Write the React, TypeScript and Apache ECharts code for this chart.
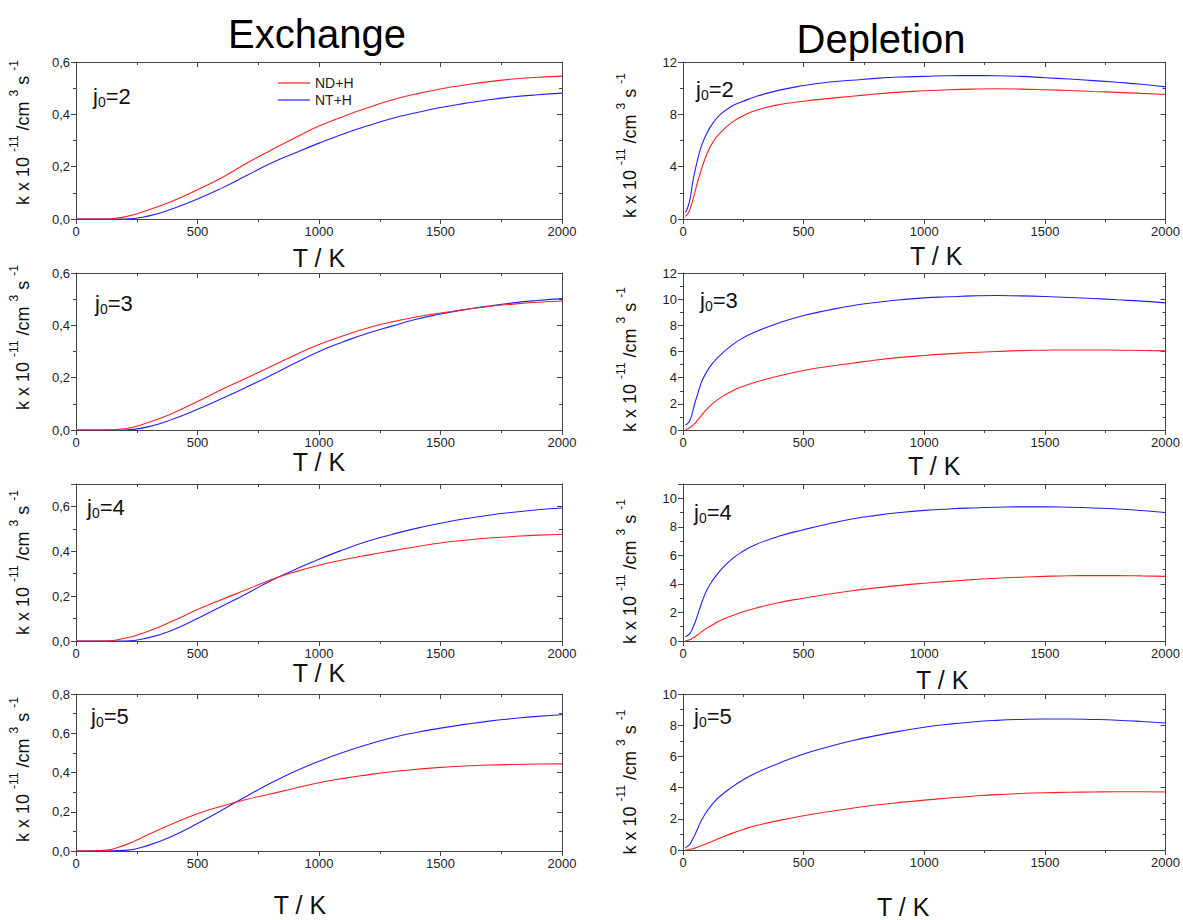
import React, { useEffect, useRef } from "react";
import * as echarts from "echarts";

// ---------- data ----------
const T_EX = [0, 100, 200, 300, 400, 500, 600, 700, 800, 900, 1000, 1100, 1200, 1300, 1400, 1500, 1600, 1700, 1800, 1900, 2000];

const EX2_ND = [0, 0, 0.008, 0.035, 0.07, 0.112, 0.158, 0.212, 0.262, 0.31, 0.355, 0.392, 0.425, 0.455, 0.478, 0.497, 0.512, 0.525, 0.535, 0.542, 0.546];
const EX2_NT = [0, 0, 0, 0.012, 0.04, 0.076, 0.118, 0.165, 0.212, 0.252, 0.29, 0.325, 0.356, 0.384, 0.406, 0.426, 0.442, 0.456, 0.467, 0.475, 0.481];

const EX3_ND = [0, 0, 0.005, 0.03, 0.065, 0.109, 0.155, 0.198, 0.242, 0.286, 0.327, 0.36, 0.39, 0.413, 0.432, 0.447, 0.46, 0.472, 0.481, 0.488, 0.493];
const EX3_NT = [0, 0, 0, 0.013, 0.042, 0.079, 0.12, 0.163, 0.208, 0.255, 0.3, 0.337, 0.37, 0.397, 0.423, 0.443, 0.46, 0.474, 0.486, 0.495, 0.502];

const EX4_ND = [0, 0, 0.012, 0.045, 0.09, 0.14, 0.185, 0.228, 0.272, 0.308, 0.338, 0.362, 0.383, 0.402, 0.42, 0.437, 0.449, 0.459, 0.466, 0.472, 0.476];
const EX4_NT = [0, 0, 0, 0.015, 0.05, 0.1, 0.155, 0.21, 0.268, 0.318, 0.365, 0.407, 0.445, 0.475, 0.502, 0.525, 0.545, 0.561, 0.574, 0.585, 0.593];

const EX5_ND = [0, 0.002, 0.03, 0.085, 0.14, 0.19, 0.228, 0.262, 0.29, 0.32, 0.348, 0.37, 0.388, 0.404, 0.416, 0.426, 0.433, 0.438, 0.441, 0.443, 0.444];
const EX5_NT = [0, 0, 0.003, 0.03, 0.078, 0.14, 0.208, 0.278, 0.345, 0.405, 0.457, 0.503, 0.543, 0.577, 0.604, 0.626, 0.645, 0.662, 0.675, 0.686, 0.694];

const T_DEP = [10, 20, 30, 40, 50, 60, 70, 80, 100, 125, 150, 200, 250, 300, 400, 500, 600, 700, 800, 900, 1000, 1100, 1200, 1300, 1400, 1500, 1600, 1700, 1800, 1900, 2000];

const DEP2_ND = [0.2, 0.4, 0.8, 1.4, 2.1, 2.8, 3.4, 4.0, 5.0, 5.9, 6.5, 7.35, 7.9, 8.3, 8.75, 9.0, 9.2, 9.38, 9.55, 9.7, 9.8, 9.88, 9.93, 9.95, 9.93, 9.88, 9.82, 9.75, 9.68, 9.6, 9.52];
const DEP2_NT = [0.5, 0.9, 1.6, 2.8, 3.7, 4.5, 5.2, 5.75, 6.6, 7.35, 7.9, 8.6, 9.0, 9.35, 9.85, 10.2, 10.45, 10.6, 10.75, 10.85, 10.9, 10.95, 10.96, 10.95, 10.9, 10.8, 10.7, 10.58, 10.45, 10.3, 10.1];

const DEP3_ND = [0.05, 0.1, 0.2, 0.35, 0.5, 0.75, 0.95, 1.2, 1.6, 2.05, 2.4, 2.95, 3.35, 3.65, 4.15, 4.55, 4.85, 5.1, 5.35, 5.55, 5.7, 5.82, 5.92, 6.0, 6.07, 6.1, 6.12, 6.12, 6.1, 6.08, 6.05];
const DEP3_NT = [0.4, 0.5, 0.8, 1.4, 2.1, 2.7, 3.3, 3.8, 4.5, 5.15, 5.65, 6.45, 7.05, 7.5, 8.2, 8.75, 9.15, 9.5, 9.75, 9.95, 10.1, 10.18, 10.25, 10.28, 10.25, 10.2, 10.13, 10.05, 9.95, 9.85, 9.72];

const DEP4_ND = [0.02, 0.05, 0.1, 0.2, 0.3, 0.42, 0.55, 0.68, 0.9, 1.15, 1.4, 1.75, 2.05, 2.3, 2.7, 3.0, 3.28, 3.52, 3.72, 3.9, 4.05, 4.18, 4.3, 4.4, 4.47, 4.53, 4.57, 4.58, 4.58, 4.56, 4.53];
const DEP4_NT = [0.3, 0.4, 0.55, 0.9, 1.3, 1.8, 2.3, 2.8, 3.6, 4.3, 4.85, 5.7, 6.3, 6.75, 7.35, 7.8, 8.2, 8.55, 8.8, 9.0, 9.15, 9.25, 9.32, 9.37, 9.4, 9.4, 9.37, 9.32, 9.25, 9.14, 9.0];

const DEP5_ND = [0, 0.02, 0.05, 0.08, 0.12, 0.18, 0.24, 0.3, 0.42, 0.58, 0.75, 1.05, 1.32, 1.55, 1.9, 2.2, 2.45, 2.68, 2.88, 3.05, 3.2, 3.33, 3.45, 3.55, 3.62, 3.67, 3.7, 3.72, 3.73, 3.73, 3.72];
const DEP5_NT = [0.15, 0.25, 0.4, 0.7, 1.0, 1.35, 1.7, 2.0, 2.5, 3.0, 3.4, 4.0, 4.5, 4.92, 5.58, 6.15, 6.6, 7.0, 7.33, 7.62, 7.87, 8.06, 8.21, 8.31, 8.37, 8.4, 8.4, 8.37, 8.32, 8.24, 8.14];

const J0_VALUES = ["2", "3", "4", "5"];
const EX_YMAX = [0.6, 0.6, 0.7, 0.8];
const EX_YSTEP = [0.2, 0.2, 0.2, 0.2];
const DEP_YMAX = [12, 12, 11, 10];
const DEP_YSTEP = [4, 2, 2, 2];
const X_MAX = 2000;
const X_STEP = 500;
const SERIES_NAMES = ["ND+H", "NT+H"];
const COLUMN_TITLES = ["Exchange", "Depletion"];

const EX_ND = [EX2_ND, EX3_ND, EX4_ND, EX5_ND];
const EX_NT = [EX2_NT, EX3_NT, EX4_NT, EX5_NT];
const DEP_ND = [DEP2_ND, DEP3_ND, DEP4_ND, DEP5_ND];
const DEP_NT = [DEP2_NT, DEP3_NT, DEP4_NT, DEP5_NT];

// ---------- layout ----------
const W = 1183;
const H = 920;
const ROW_TOP = [62, 273, 484, 694];
const ROW_H = 157;
const COL_LEFT = [76, 683];
const COL_W = 486;
const XNAME_GAP = [[26, 19, 19, 41], [24, 23, 26, 44]];
const XNAME_SHIFT = [[0, 0, 0, -19], [12, 10, 18, -21]];
const YNAME_SHIFT = [[-8, -14, 0, -3], [5, 8, 9, 10]];
const J0_POS = [
  [[93, 97], [95, 304], [87, 508], [91, 717]],
  [[696, 90], [700, 301], [694, 513], [694, 717]],
];

const FONT = "'Liberation Sans', Arial, Helvetica, sans-serif";
const AX = "#444";
const TXT = "#111";
const RED = "#ff1f1f";
const BLUE = "#2020ff";

const fmtComma = (v: number) => v.toFixed(1).replace(".", ",");
const isMultiple = (max: number, step: number) =>
  Math.abs(Math.round(max / step) * step - max) < 1e-9;

function buildOption() {
  const grid: any[] = [];
  const xAxis: any[] = [];
  const yAxis: any[] = [];
  const series: any[] = [];
  const graphic: any[] = [];

  for (let c = 0; c < 2; c++) {
    for (let r = 0; r < 4; r++) {
      const gi = grid.length;
      grid.push({
        left: COL_LEFT[c],
        top: ROW_TOP[r],
        width: COL_W,
        height: ROW_H,
        containLabel: false,
      });
      const shift = XNAME_SHIFT[c][r];
      const xPad = shift >= 0 ? [0, 0, 0, 2 * shift] : [0, -2 * shift, 0, 0];
      xAxis.push({
        type: "value",
        gridIndex: gi,
        position: "bottom",
        min: 0,
        max: X_MAX,
        interval: X_STEP,
        axisLine: { show: true, onZero: false, lineStyle: { color: AX, width: 1 } },
        axisTick: { show: true, inside: false, length: 5, lineStyle: { color: AX } },
        minorTick: { show: true, splitNumber: 2, length: 3, lineStyle: { color: AX } },
        splitLine: { show: false },
        minorSplitLine: { show: false },
        axisLabel: {
          fontSize: 13,
          color: "#222",
          margin: 6,
          fontFamily: FONT,
          formatter: (v: number) => String(v),
        },
        name: "T / K",
        nameLocation: "middle",
        nameGap: XNAME_GAP[c][r],
        nameTextStyle: { fontSize: 25, color: TXT, fontFamily: FONT, padding: xPad },
      });
      xAxis.push({
        type: "value",
        gridIndex: gi,
        position: "top",
        min: 0,
        max: X_MAX,
        interval: X_STEP,
        axisLine: { show: true, onZero: false, lineStyle: { color: AX, width: 1 } },
        axisTick: { show: true, inside: true, length: 5, lineStyle: { color: AX } },
        minorTick: { show: true, splitNumber: 2, length: 3, lineStyle: { color: AX } },
        splitLine: { show: false },
        axisLabel: { show: false },
      });

      const ymax = c === 0 ? EX_YMAX[r] : DEP_YMAX[r];
      const ystep = c === 0 ? EX_YSTEP[r] : DEP_YSTEP[r];
      const ysh = YNAME_SHIFT[c][r];
      const yPad = ysh < 0 ? [0, 0, 0, -2 * ysh] : [0, 2 * ysh, 0, 0];
      yAxis.push({
        type: "value",
        gridIndex: gi,
        position: "left",
        min: 0,
        max: ymax,
        interval: ystep,
        axisLine: { show: true, onZero: false, lineStyle: { color: AX, width: 1 } },
        axisTick: { show: true, inside: false, length: 5, lineStyle: { color: AX } },
        minorTick: { show: true, splitNumber: 2, length: 3, lineStyle: { color: AX } },
        splitLine: { show: false },
        axisLabel: {
          fontSize: 13,
          color: "#222",
          margin: 6,
          fontFamily: FONT,
          showMaxLabel: isMultiple(ymax, ystep),
          formatter: c === 0 ? (v: number) => fmtComma(v) : (v: number) => String(v),
        },
        name: "{m|k x 10 }{s|-11}{m| /cm }{s|3}{m| s }{s|-1}",
        nameLocation: "middle",
        nameRotate: 90,
        nameGap: 44,
        nameTextStyle: {
          padding: yPad,
          rich: {
            m: { fontSize: 18, color: TXT, fontFamily: FONT, lineHeight: 24, verticalAlign: "bottom" },
            s: { fontSize: 12, color: TXT, fontFamily: FONT, lineHeight: 12, verticalAlign: "top" },
          },
        },
      });
      yAxis.push({
        type: "value",
        gridIndex: gi,
        position: "right",
        min: 0,
        max: ymax,
        interval: ystep,
        axisLine: { show: true, onZero: false, lineStyle: { color: AX, width: 1 } },
        axisTick: { show: true, inside: true, length: 5, lineStyle: { color: AX } },
        minorTick: { show: true, splitNumber: 2, length: 3, lineStyle: { color: AX } },
        splitLine: { show: false },
        axisLabel: { show: false },
      });

      const tArr = c === 0 ? T_EX : T_DEP;
      const nd = c === 0 ? EX_ND[r] : DEP_ND[r];
      const nt = c === 0 ? EX_NT[r] : DEP_NT[r];
      const mk = (name: string, vals: number[], color: string) => ({
        type: "line",
        name,
        xAxisIndex: 2 * gi,
        yAxisIndex: 2 * gi,
        data: tArr.map((t, i) => [t, vals[i]]),
        symbol: "none",
        showSymbol: false,
        smooth: 0.5,
        lineStyle: { color, width: 1.1 },
        itemStyle: { color },
        z: 3,
      });
      series.push(mk(SERIES_NAMES[1], nt, BLUE));
      series.push(mk(SERIES_NAMES[0], nd, RED));

      const [jx, jy] = J0_POS[c][r];
      graphic.push({
        type: "text",
        x: jx,
        y: jy,
        style: {
          text: "{a|j}{b|0}{a|=" + J0_VALUES[r] + "}",
          verticalAlign: "middle",
          align: "left",
          rich: {
            a: { fontSize: 22, fill: TXT, color: TXT, fontFamily: FONT, lineHeight: 24, verticalAlign: "top" },
            b: { fontSize: 14, fill: TXT, color: TXT, fontFamily: FONT, lineHeight: 14, verticalAlign: "bottom" },
          },
        },
      });
    }
  }

  graphic.push({
    type: "text",
    x: 317,
    y: 34,
    style: { text: COLUMN_TITLES[0], fontSize: 40, fontFamily: FONT, fill: "#000", align: "center", verticalAlign: "middle" },
  });
  graphic.push({
    type: "text",
    x: 881,
    y: 39,
    style: { text: COLUMN_TITLES[1], fontSize: 40, fontFamily: FONT, fill: "#000", align: "center", verticalAlign: "middle" },
  });

  return {
    animation: false,
    backgroundColor: "#ffffff",
    textStyle: { fontFamily: FONT },
    legend: {
      data: [
        { name: SERIES_NAMES[0], icon: "rect", itemStyle: { color: RED } },
        { name: SERIES_NAMES[1], icon: "rect", itemStyle: { color: BLUE } },
      ],
      orient: "vertical",
      left: 273,
      top: 70,
      itemWidth: 32,
      itemHeight: 1.2,
      itemGap: 1,
      textStyle: { fontSize: 14, color: "#222", fontFamily: FONT, lineHeight: 16 },
      selectedMode: false,
    },
    grid,
    xAxis,
    yAxis,
    series,
    graphic,
  };
}

export default function App() {
  const ref = useRef<HTMLDivElement>(null);
  useEffect(() => {
    document.body.style.margin = "0";
    if (!ref.current) return;
    const chart = echarts.init(ref.current, null, { renderer: "svg" });
    chart.setOption(buildOption() as any);
    return () => chart.dispose();
  }, []);
  return <div ref={ref} style={{ width: W, height: H, background: "#fff" }} />;
}
